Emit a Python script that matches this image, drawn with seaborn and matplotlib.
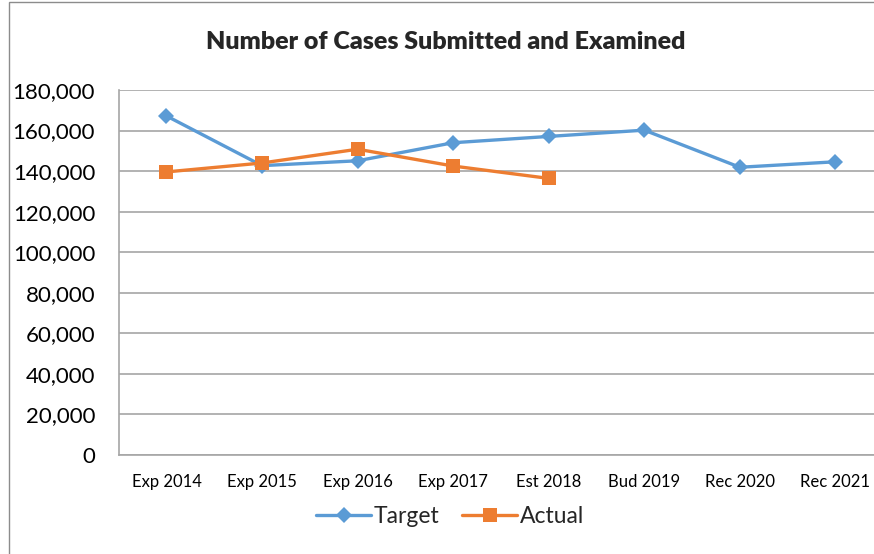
import numpy as np
import pandas as pd
import matplotlib
matplotlib.use("Agg")
import matplotlib.pyplot as plt
import seaborn as sns
from matplotlib.patches import Rectangle
from matplotlib.ticker import FuncFormatter, MultipleLocator

# data
categories = ["Exp 2014", "Exp 2015", "Exp 2016", "Exp 2017",
              "Est 2018", "Bud 2019", "Rec 2020", "Rec 2021"]
target = [167200, 142700, 145100, 154000, 157100, 160200, 141900, 144600]
actual = [139600, 144000, 150800, 142500, 136400]

sns.set_theme(style="white")
plt.rcParams['font.family'] = ['Lato', 'DejaVu Sans']

fig = plt.figure(figsize=(8.74, 5.54), dpi=100)
# plot area runs off the right edge, as in the reference
ax = fig.add_axes([118.7 / 874, 99 / 554, 764.5 / 874, 365 / 554])

blue = "#5B9BD5"
orange = "#ED7D31"
grid_c = "#A6A6A6"

x_t = np.arange(len(target))
x_a = np.arange(len(actual))
sns.lineplot(x=x_t, y=target, ax=ax, color=blue, lw=2.4, marker="D",
             markersize=8.5, markeredgewidth=0, label="Target")
sns.lineplot(x=x_a, y=actual, ax=ax, color=orange, lw=2.4, marker="s",
             markersize=9.5, markeredgewidth=0, label="Actual")

ax.set_xlim(-0.5, len(categories) - 0.5)
ax.set_ylim(0, 180000)
ax.yaxis.set_major_locator(MultipleLocator(20000))
ax.yaxis.set_major_formatter(FuncFormatter(lambda v, p: f"{int(v):,}"))
ax.grid(axis="y", color=grid_c, lw=1.2)
ax.set_axisbelow(True)

ax.set_xticks(x_t)
ax.set_xticklabels(categories, fontsize=12)
ax.set_xticks(np.arange(len(categories) + 1) - 0.5, minor=True)
ax.tick_params(axis="x", which="major", length=0, pad=14, colors="black")
ax.tick_params(axis="x", which="minor", length=5, width=1, color=grid_c)
ax.tick_params(axis="y", length=6, width=1.2, color=grid_c, labelsize=16,
               pad=11, labelcolor="black")

for s in ["top", "right"]:
    ax.spines[s].set_visible(False)
for s in ["left", "bottom"]:
    ax.spines[s].set_color(grid_c)
    ax.spines[s].set_linewidth(1.2)
ax.set_xlabel("")
ax.set_ylabel("")

ax.get_legend().remove()
handles, labels = ax.get_legend_handles_labels()
fig.legend(handles, labels, loc="center", bbox_to_anchor=(0.515, 0.067),
           ncol=2, frameon=False, fontsize=16.5, handlelength=2.4,
           columnspacing=1.0, handletextpad=0.1)

fig.text(0.51, 0.924, "Number of Cases Submitted and Examined",
         ha="center", va="center", fontsize=18, fontweight="heavy")

# chart border
fig.patches.append(Rectangle((9 / 874, -0.05), 1.1, 1 - 2 / 554 + 0.05,
                             transform=fig.transFigure, fill=False,
                             edgecolor="#8C8C8C", lw=1))

fig.savefig("out.png", dpi=100)
